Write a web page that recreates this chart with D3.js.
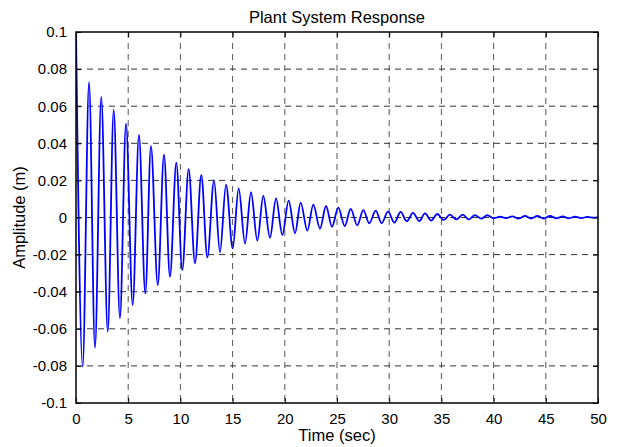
<html>
<head>
<script src="https://cdnjs.cloudflare.com/ajax/libs/d3/7.8.5/d3.min.js"></script>
</head>
<body style="margin: 0; background: #fff;">
<script>
// peaks and troughs of the response
var peakTimes = [1.25, 2.42, 3.61, 4.79, 6.03, 7.18, 8.43, 9.61, 10.79, 12.0, 13.22, 14.37, 15.58,
  16.76, 17.94, 19.16, 20.37, 21.52, 22.73, 23.95, 25.12, 26.31, 27.52, 28.71, 29.89, 31.10, 32.28,
  33.43, 34.61, 35.82, 37.04, 38.22, 39.40, 40.61, 41.79, 43.01, 44.19, 45.40, 46.62, 47.80, 48.97]
var peakValues = [0.073, 0.065, 0.058, 0.0506, 0.0445, 0.0385, 0.0339, 0.0296, 0.0261, 0.0229, 0.0202, 0.0177, 0.0157,
  0.0136, 0.0116, 0.0103, 0.0091, 0.0080, 0.0069, 0.0062, 0.0053, 0.0046, 0.0040, 0.0037, 0.0033, 0.0030, 0.0025,
  0.0022, 0.0019, 0.0015, 0.0015, 0.0013, 0.0012, 0.0004, 0.0006, 0.0008, 0.0008, 0.0008, 0.0006, 0.0004, 0.0003]
var troughTimes = [0.64, 1.82, 3.04, 4.21, 5.43, 6.64, 7.83, 9.00, 10.18, 11.40, 12.58, 13.79, 15.01,
  16.19, 17.37, 18.58, 19.76, 20.98, 22.16, 23.37, 24.52, 25.74, 26.94, 28.09, 29.28, 30.49, 31.68, 32.88,
  34.02, 35.22, 36.43, 37.63, 38.81, 40.0, 41.2, 42.4, 43.6, 44.8, 46.0, 47.2, 48.4, 49.6]
var troughValues = [-0.0804, -0.0702, -0.0616, -0.0543, -0.0472, -0.0409, -0.0364, -0.0319, -0.0283, -0.0247, -0.0215, -0.0188, -0.0166,
  -0.0141, -0.0125, -0.0109, -0.0094, -0.0085, -0.0071, -0.0060, -0.0050, -0.0046, -0.0042, -0.0031, -0.0031, -0.0028, -0.0020, -0.0019,
  -0.0017, -0.0013, -0.0010, -0.0010, -0.0006, -0.0004, -0.0003, -0.0006, -0.0006, -0.0006, -0.0004, -0.0004, -0.0003, -0.0001]
var startPoint = [0, 0.1]
var endPoint = [50, 0.0002]

var xTicks = [0, 5, 10, 15, 20, 25, 30, 35, 40, 45, 50]
var yTicks = [-0.1, -0.08, -0.06, -0.04, -0.02, 0, 0.02, 0.04, 0.06, 0.08, 0.1]
var yTickLabels = ["-0.1", "-0.08", "-0.06", "-0.04", "-0.02", "0", "0.02", "0.04", "0.06", "0.08", "0.1"]

var width = 621, height = 447
var margin = {left: 76, top: 32, right: 23, bottom: 44}
var w = width - margin.left - margin.right
var h = height - margin.top - margin.bottom

var points = [startPoint]
peakTimes.forEach((t, i) => points.push([t, peakValues[i]]))
troughTimes.forEach((t, i) => points.push([t, troughValues[i]]))
points.push(endPoint)
points.sort((a, b) => a[0] - b[0])

var x = d3.scaleLinear().domain([0, 50]).range([0, w])
var y = d3.scaleLinear().domain([-0.1, 0.1]).range([h, 0])

var svg = d3.select("body").append("svg")
  .attr("width", width)
  .attr("height", height)
  .style("font-family", "'Liberation Sans', Arial, sans-serif")

var g = svg.append("g").attr("transform", `translate(${margin.left},${margin.top})`)

g.append("defs").append("clipPath").attr("id", "clip")
  .append("rect").attr("width", w).attr("height", h)

// dashed grid
g.append("g").selectAll("line").data(xTicks.slice(1, -1)).enter().append("line")
  .attr("x1", d => x(d)).attr("x2", d => x(d))
  .attr("y1", 0).attr("y2", h)
  .attr("stroke", "#555").attr("stroke-width", 1).attr("stroke-dasharray", "6,5")
g.append("g").selectAll("line").data(yTicks.slice(1, -1)).enter().append("line")
  .attr("y1", d => y(d)).attr("y2", d => y(d))
  .attr("x1", 0).attr("x2", w)
  .attr("stroke", "#333").attr("stroke-width", 1).attr("stroke-dasharray", "6,5")

// response line
var line = d3.line()
  .x(d => x(d[0]))
  .y(d => y(d[1]))
  .curve(d3.curveMonotoneX)

g.append("path")
  .datum(points)
  .attr("clip-path", "url(#clip)")
  .attr("fill", "none")
  .attr("stroke", "#0000ff")
  .attr("stroke-width", 1.8)
  .attr("d", line)

// axes with inward ticks on all four sides
g.append("g").attr("transform", `translate(0,${h})`)
  .call(d3.axisBottom(x).tickValues(xTicks).tickSizeInner(-5).tickSizeOuter(0).tickPadding(10))
g.append("g")
  .call(d3.axisTop(x).tickValues(xTicks).tickSizeInner(-5).tickSizeOuter(0).tickFormat(""))
g.append("g")
  .call(d3.axisLeft(y).tickValues(yTicks).tickSizeInner(-5).tickSizeOuter(0).tickPadding(9)
    .tickFormat((d, i) => yTickLabels[i]))
g.append("g").attr("transform", `translate(${w},0)`)
  .call(d3.axisRight(y).tickValues(yTicks).tickSizeInner(-5).tickSizeOuter(0).tickFormat(""))

g.selectAll(".domain").remove()
g.selectAll(".tick line").attr("stroke", "#000")
g.selectAll(".tick text").attr("font-size", 15).attr("fill", "#000")
  .style("font-family", "'Liberation Sans', Arial, sans-serif")

g.append("rect")
  .attr("width", w).attr("height", h)
  .attr("fill", "none").attr("stroke", "#000").attr("stroke-width", 1.5)

svg.append("text")
  .attr("x", margin.left + w / 2).attr("y", 23)
  .attr("text-anchor", "middle").attr("font-size", 16.5)
  .text("Plant System Response")

svg.append("text")
  .attr("x", margin.left + w / 2).attr("y", 441)
  .attr("text-anchor", "middle").attr("font-size", 16.5)
  .text("Time (sec)")

svg.append("text")
  .attr("transform", `translate(25,${margin.top + h / 2}) rotate(-90)`)
  .attr("text-anchor", "middle").attr("font-size", 16.5)
  .text("Amplitude (m)")
</script>
</body>
</html>
